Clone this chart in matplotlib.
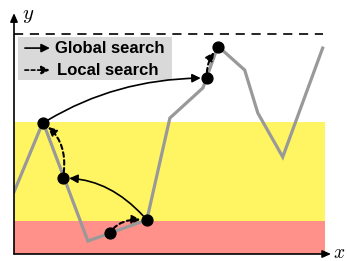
import matplotlib
matplotlib.use("Agg")
import matplotlib.pyplot as plt
from matplotlib.patches import Rectangle

plt.rcParams['mathtext.fontset'] = 'cm'

# objective curve (gray line)
curve_x = [0.0, 0.93, 2.37, 4.26, 5.0, 6.06, 6.54, 7.4, 7.82, 8.62, 9.9]
curve_y = [2.82, 6.0, 0.59, 1.55, 6.18, 7.55, 9.45, 8.36, 6.41, 4.41, 9.36]

# search points
pts_x = [0.93, 1.57, 3.08, 4.26, 6.19, 6.54]
pts_y = [5.95, 3.45, 0.95, 1.55, 8.0, 9.41]

# bands
red_band = (0.0, 1.5)
yellow_band = (1.5, 6.0)
band_x = (0.0, 9.97)
optimum_y = 10.0

# arrows: (from index, to index, style, angleA, angleB)
moves = [
    (0, 4, 'global', 32, 0),
    (3, 1, 'global', 131, 0),
    (2, 3, 'local', 60, -5),
    (1, 0, 'local', 80, 145),
    (4, 5, 'local', 95, 50),
]

fig = plt.figure(figsize=(3.47, 2.61), dpi=100)
ax = fig.add_axes([14/347, 7/261, (332-14)/347, (254-12)/261])
ax.set_xlim(0, 10.2)
ax.set_ylim(0, 11)
ax.axis('off')

ax.add_patch(Rectangle((band_x[0], red_band[0]), band_x[1]-band_x[0], red_band[1]-red_band[0],
                       facecolor='#ff918a', edgecolor='none', zorder=0))
ax.add_patch(Rectangle((band_x[0], yellow_band[0]), band_x[1]-band_x[0], yellow_band[1]-yellow_band[0],
                       facecolor='#fff563', edgecolor='none', zorder=0))

ax.plot([0, 9.9], [optimum_y, optimum_y], color='black', lw=1.2, linestyle=(0, (5.5, 4)), zorder=1)

ax.plot(curve_x, curve_y, color='#999999', lw=2.3, zorder=2, solid_joinstyle='miter')
ax.plot(pts_x, pts_y, 'o', color='black', ms=7.8, zorder=4)

for a, b, kind, angA, angB in moves:
    ls = '-' if kind == 'global' else (0, (2.2, 1.6))
    lw = 1.2 if kind == 'global' else 1.5
    ax.annotate('', xy=(pts_x[b], pts_y[b]), xytext=(pts_x[a], pts_y[a]),
                arrowprops=dict(arrowstyle='-|>,head_length=0.5,head_width=0.25',
                                color='black', lw=lw, linestyle=ls,
                                connectionstyle=f'angle3,angleA={angA},angleB={angB}',
                                shrinkA=4, shrinkB=4.5),
                zorder=3)

# axes arrows
ax.annotate('', xy=(10.17, 0), xytext=(0, 0), annotation_clip=False,
            arrowprops=dict(arrowstyle='-|>,head_length=0.5,head_width=0.22', color='black',
                            lw=1.2, shrinkA=0, shrinkB=0))
ax.annotate('', xy=(0, 10.95), xytext=(0, 0), annotation_clip=False,
            arrowprops=dict(arrowstyle='-|>,head_length=0.5,head_width=0.22', color='black',
                            lw=1.2, shrinkA=0, shrinkB=0))
ax.text(10.24, 0.05, '$x$', fontsize=14, ha='left', va='center', clip_on=False)
ax.text(0.45, 10.85, '$y$', fontsize=15, ha='center', va='center', clip_on=False)

# legend box
ax.add_patch(Rectangle((0.13, 7.9), 4.93, 1.96, facecolor='#d9d9d9', edgecolor='none', zorder=1))
ax.annotate('', xy=(1.15, 9.36), xytext=(0.35, 9.36),
            arrowprops=dict(arrowstyle='-|>,head_length=0.5,head_width=0.25', color='black',
                            lw=1.2, shrinkA=0, shrinkB=0), zorder=3)
ax.annotate('', xy=(1.15, 8.36), xytext=(0.35, 8.36),
            arrowprops=dict(arrowstyle='-|>,head_length=0.5,head_width=0.25', color='black',
                            lw=1.2, linestyle=(0, (2.2, 1.6)), shrinkA=0, shrinkB=0), zorder=3)
ax.text(1.31, 9.36, 'Global search', fontsize=12, fontweight='bold', family='Liberation Sans',
        ha='left', va='center', zorder=3)
ax.text(1.38, 8.36, 'Local search', fontsize=12, fontweight='bold', family='Liberation Sans',
        ha='left', va='center', zorder=3)

fig.savefig('out.png', dpi=100)
